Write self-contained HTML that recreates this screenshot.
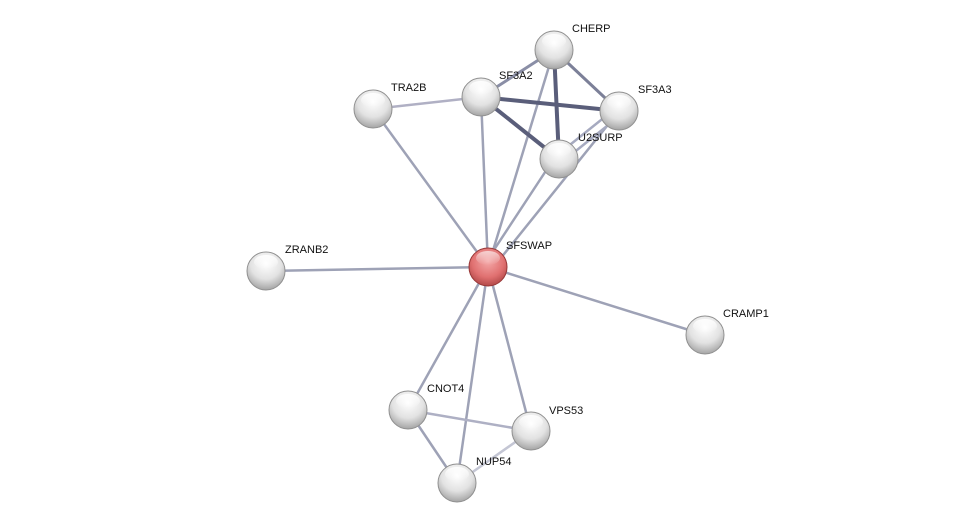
<!DOCTYPE html>
<html><head><meta charset="utf-8"><style>
html,body{margin:0;padding:0;background:#fff;}
svg{display:block;}
text{font-family:"Liberation Sans",sans-serif;font-size:11px;fill:#111;}
</style></head><body>
<svg width="976" height="528" viewBox="0 0 976 528" xmlns="http://www.w3.org/2000/svg">
<defs>
<radialGradient id="g" cx="0.5" cy="0.3" r="0.75">
<stop offset="0" stop-color="#ffffff"/><stop offset="0.55" stop-color="#e2e2e2"/><stop offset="1" stop-color="#9a9a9a"/>
</radialGradient>
<radialGradient id="r" cx="0.5" cy="0.35" r="0.7">
<stop offset="0" stop-color="#f4a8a8"/><stop offset="0.6" stop-color="#e07070"/><stop offset="1" stop-color="#a84040"/>
</radialGradient>
<linearGradient id="hl" x1="0" y1="0" x2="0" y2="1">
<stop offset="0" stop-color="#fff" stop-opacity="0.9"/><stop offset="1" stop-color="#fff" stop-opacity="0"/>
</linearGradient>
</defs>
<g stroke-linecap="round">
<g stroke="#9ea2b6" stroke-width="2.5">
<line x1="488" y1="267" x2="373" y2="109"/>
<line x1="488" y1="267" x2="481" y2="97"/>
<line x1="488" y1="267" x2="554" y2="50"/>
<line x1="484" y1="265" x2="555" y2="157"/>
<line x1="492" y1="269" x2="619" y2="111"/>
<line x1="488" y1="267" x2="266" y2="271"/>
<line x1="488" y1="267" x2="705" y2="335"/>
<line x1="488" y1="267" x2="408" y2="410"/>
<line x1="488" y1="267" x2="531" y2="431"/>
<line x1="488" y1="267" x2="457" y2="483"/>
<line x1="373" y1="109" x2="481" y2="97" stroke="#b0b0c4"/>
<line x1="408" y1="410" x2="531" y2="431" stroke="#aeb0c4"/>
<line x1="408" y1="410" x2="457" y2="483"/>
<line x1="457" y1="483" x2="531" y2="431" stroke="#c4c6d4"/>
<line x1="554" y1="50" x2="619" y2="111" stroke="#7c8098" stroke-width="3"/>
<line x1="556" y1="156" x2="616" y2="108" stroke="#a6aac0"/>
<line x1="562" y1="162" x2="622" y2="114" stroke="#a6aac0"/>
<line x1="481" y1="97" x2="554" y2="50" stroke="#8a8ea6" stroke-width="3"/>
</g>
<g stroke="#5a5e7a" stroke-width="4">
<line x1="481" y1="97" x2="619" y2="111"/>
<line x1="481" y1="97" x2="559" y2="159"/>
<line x1="554" y1="50" x2="559" y2="159"/>
</g>
</g>
<g>
<g transform="translate(554,50)"><circle r="19" fill="url(#g)" stroke="#909090" stroke-width="1"/><ellipse cx="0" cy="-9" rx="12" ry="7" fill="url(#hl)"/></g>
<g transform="translate(481,97)"><circle r="19" fill="url(#g)" stroke="#909090"/><ellipse cx="0" cy="-9" rx="12" ry="7" fill="url(#hl)"/></g>
<g transform="translate(373,109)"><circle r="19" fill="url(#g)" stroke="#909090"/><ellipse cx="0" cy="-9" rx="12" ry="7" fill="url(#hl)"/></g>
<g transform="translate(619,111)"><circle r="19" fill="url(#g)" stroke="#909090"/><ellipse cx="0" cy="-9" rx="12" ry="7" fill="url(#hl)"/></g>
<g transform="translate(559,159)"><circle r="19" fill="url(#g)" stroke="#909090"/><ellipse cx="0" cy="-9" rx="12" ry="7" fill="url(#hl)"/></g>
<g transform="translate(488,267)"><circle r="19" fill="url(#r)" stroke="#983838"/><ellipse cx="0" cy="-9" rx="12" ry="7" fill="url(#hl)" opacity="0.7"/></g>
<g transform="translate(266,271)"><circle r="19" fill="url(#g)" stroke="#909090"/><ellipse cx="0" cy="-9" rx="12" ry="7" fill="url(#hl)"/></g>
<g transform="translate(705,335)"><circle r="19" fill="url(#g)" stroke="#909090"/><ellipse cx="0" cy="-9" rx="12" ry="7" fill="url(#hl)"/></g>
<g transform="translate(408,410)"><circle r="19" fill="url(#g)" stroke="#909090"/><ellipse cx="0" cy="-9" rx="12" ry="7" fill="url(#hl)"/></g>
<g transform="translate(531,431)"><circle r="19" fill="url(#g)" stroke="#909090"/><ellipse cx="0" cy="-9" rx="12" ry="7" fill="url(#hl)"/></g>
<g transform="translate(457,483)"><circle r="19" fill="url(#g)" stroke="#909090"/><ellipse cx="0" cy="-9" rx="12" ry="7" fill="url(#hl)"/></g>
</g>
<g>
<text x="572" y="32">CHERP</text>
<text x="499" y="79">SF3A2</text>
<text x="391" y="91">TRA2B</text>
<text x="638" y="93">SF3A3</text>
<text x="578" y="141">U2SURP</text>
<text x="506" y="249">SFSWAP</text>
<text x="285" y="253">ZRANB2</text>
<text x="723" y="317">CRAMP1</text>
<text x="427" y="392">CNOT4</text>
<text x="549" y="414">VPS53</text>
<text x="476" y="465">NUP54</text>
</g>
</svg>
</body></html>
